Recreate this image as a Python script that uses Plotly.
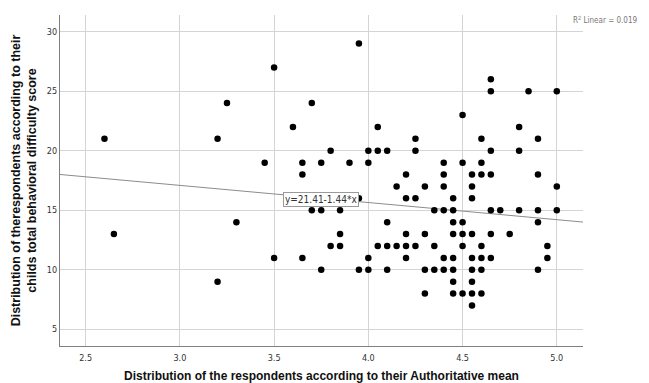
import plotly.graph_objects as go

# Authoritative mean (x) and total behavioral difficulty score (y) per respondent
authoritative_mean = [
    2.6, 2.65, 3.2, 3.2, 3.25, 3.3, 3.45, 3.5, 3.5, 3.6,
    3.65, 3.65, 3.65, 3.7, 3.7, 3.75, 3.75, 3.75, 3.8, 3.8,
    3.85, 3.85, 3.85, 3.9, 3.95, 3.95, 3.95,
    4.0, 4.0, 4.0, 4.0, 4.05, 4.05, 4.05,
    4.1, 4.1, 4.1, 4.1, 4.15, 4.15,
    4.2, 4.2, 4.2, 4.2, 4.2, 4.25, 4.25, 4.25, 4.25,
    4.3, 4.3, 4.3, 4.3, 4.35, 4.35, 4.35,
    4.4, 4.4, 4.4, 4.4, 4.4, 4.4,
    4.45, 4.45, 4.45, 4.45, 4.45, 4.45, 4.45, 4.45,
    4.5, 4.5, 4.5, 4.5, 4.5, 4.5,
    4.55, 4.55, 4.55, 4.55, 4.55, 4.55, 4.55, 4.55, 4.55,
    4.6, 4.6, 4.6, 4.6, 4.6, 4.6, 4.6,
    4.65, 4.65, 4.65, 4.65, 4.65, 4.65, 4.65,
    4.7, 4.75, 4.8, 4.8, 4.8, 4.85,
    4.9, 4.9, 4.9, 4.9, 4.9, 4.95, 4.95,
    5.0, 5.0, 5.0,
]
difficulty_score = [
    21, 13, 21, 9, 24, 14, 19, 27, 11, 22,
    19, 18, 11, 24, 15, 19, 15, 10, 20, 12,
    15, 13, 12, 19, 29, 16, 10,
    20, 19, 11, 10, 22, 20, 12,
    20, 14, 12, 10, 17, 12,
    18, 16, 13, 12, 11, 21, 20, 16, 12,
    17, 13, 10, 8, 15, 12, 10,
    19, 18, 17, 15, 11, 10,
    16, 15, 14, 13, 11, 10, 9, 8,
    23, 19, 14, 13, 12, 8,
    18, 17, 16, 13, 11, 10, 9, 8, 7,
    21, 19, 18, 12, 11, 10, 8,
    26, 25, 20, 18, 15, 13, 11,
    15, 13, 22, 20, 15, 25,
    21, 18, 15, 14, 10, 12, 11,
    25, 17, 15,
]

# Fit line as reported on the chart
fit_intercept = 21.41
fit_slope = -1.44
r_squared = 0.019

x_range = [2.364, 5.139]
y_range = [3.6, 31.4]
x_ticks = [2.5, 3.0, 3.5, 4.0, 4.5, 5.0]
y_ticks = [5, 10, 15, 20, 25, 30]

fit_x = x_range
fit_y = [fit_intercept + fit_slope * v for v in fit_x]

fig = go.Figure()
fig.add_trace(go.Scatter(
    x=fit_x, y=fit_y, mode="lines",
    line=dict(color="#8c8c8c", width=1),
    hoverinfo="skip", showlegend=False,
))
fig.add_trace(go.Scatter(
    x=authoritative_mean, y=difficulty_score, mode="markers",
    marker=dict(color="black", size=6.5, line=dict(width=0)),
    showlegend=False,
))

tick_font = dict(family="DejaVu Sans Condensed, Liberation Sans Narrow, Liberation Sans, Arial", size=9, color="#333333")
title_font = dict(family="Liberation Sans, Arial, sans-serif", size=12.5, color="#111111")

fig.update_layout(
    width=649, height=383,
    margin=dict(l=60, r=66, t=15, b=37),
    paper_bgcolor="white", plot_bgcolor="white",
    showlegend=False,
    xaxis=dict(
        range=x_range, tickvals=x_ticks, ticktext=[f"{v:.1f}" for v in x_ticks],
        showgrid=True, gridcolor="#d4d4d4", gridwidth=1,
        showline=True, linecolor="#7f7f7f", linewidth=1.2,
        zeroline=False, ticks="", tickfont=tick_font, ticklabelstandoff=3,
        automargin=False,
        title=dict(text="<b>Distribution of the respondents according to their Authoritative mean</b>",
                   font=dict(family=title_font["family"], size=12, color="#111111"), standoff=15),
    ),
    yaxis=dict(
        range=y_range, tickvals=y_ticks,
        showgrid=True, gridcolor="#d4d4d4", gridwidth=1,
        showline=True, linecolor="#7f7f7f", linewidth=1.2,
        zeroline=False, ticks="", tickfont=tick_font,
        automargin=False,
        title=dict(text="<b>Distribution of therespondents according to their<br>childs total behavioral difficulty score</b>",
                   font=title_font, standoff=7),
    ),
    annotations=[
        dict(x=3.75, y=15.9, xref="x", yref="y",
             text=f"y={fit_intercept:.2f}{fit_slope:.2f}*x",
             showarrow=False, bgcolor="white", bordercolor="#9a9a9a", borderwidth=1,
             borderpad=1, font=dict(family=tick_font["family"], size=10, color="#333333")),
        dict(x=1.0, y=0.985, xref="paper", yref="paper", xanchor="left", yanchor="middle",
             xshift=-12,
             text=f"R<sup>2</sup> Linear = {r_squared:.3f}",
             showarrow=False, font=dict(family=tick_font["family"], size=8, color="#777777")),
    ],
)

fig.write_html(
    "out.html",
    config={"displayModeBar": False},
    post_script="document.body.style.margin='0';document.body.style.overflow='hidden';",
)
